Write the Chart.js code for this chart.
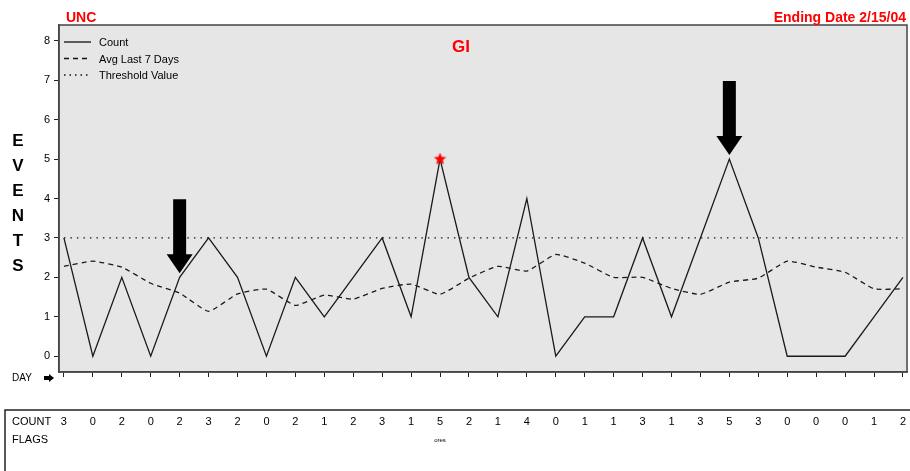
<!DOCTYPE html>
<html lang="en">
<head>
    <meta charset="UTF-8">
    <title>GI Events</title>
    <style>
        html, body { margin: 0; padding: 0; background: #fff; overflow: hidden; }
        #wrap { width: 910px; height: 471px; overflow: hidden; }
    </style>
</head>
<body>
    <div id="wrap"><canvas id="eventsChart" width="914" height="471"></canvas></div>
    <script src="https://cdn.jsdelivr.net/npm/chart.js"></script>
    <script>
        // data
        const days = [0,1,2,3,4,5,6,7,8,9,10,11,12,13,14,15,16,17,18,19,20,21,22,23,24,25,26,27,28,29];
        const counts = [3,0,2,0,2,3,2,0,2,1,2,3,1,5,2,1,4,0,1,1,3,1,3,5,3,0,0,0,1,2];
        const avgLast7 = [2.28,2.41,2.26,1.85,1.6,1.14,1.58,1.7,1.29,1.55,1.45,1.72,1.83,1.57,1.98,2.28,2.16,2.58,2.36,2.0,2.0,1.72,1.57,1.88,1.98,2.41,2.26,2.13,1.71,1.71];
        const threshold = 3;
        const yTicks = [0,1,2,3,4,5,6,7,8];
        const flagDays = [13];
        const flagText = ['ores'];
        const arrowDays = [4, 23];

        const FONT = '"Liberation Sans", Arial, sans-serif';

        // red five point star for the flagged count
        function makeStar(size) {
            const c = document.createElement('canvas');
            c.width = size; c.height = size;
            const g = c.getContext('2d');
            const r = size / 2, ri = r * 0.45;
            g.beginPath();
            for (let i = 0; i < 10; i++) {
                const rad = i % 2 === 0 ? r : ri;
                const a = -Math.PI / 2 + i * Math.PI / 5;
                g.lineTo(r + rad * Math.cos(a), r + rad * Math.sin(a));
            }
            g.closePath();
            g.fillStyle = '#ff0000';
            g.fill();
            return c;
        }

        const decorations = {
            id: 'decorations',
            beforeDraw(chart) {
                const { ctx, chartArea: a } = chart;
                ctx.save();
                ctx.fillStyle = '#e6e6e6';
                ctx.fillRect(a.left, a.top, a.right - a.left, a.bottom - a.top);
                ctx.restore();
            },
            afterDraw(chart) {
                const { ctx, chartArea: a, scales } = chart;
                const xs = scales.x, ys = scales.y;
                ctx.save();

                // frame
                ctx.strokeStyle = '#444';
                ctx.lineWidth = 1.5;
                ctx.strokeRect(a.left, a.top, a.right - a.left, a.bottom - a.top);

                // titles
                ctx.fillStyle = '#ff0000';
                ctx.font = 'bold 14px ' + FONT;
                ctx.textBaseline = 'alphabetic';
                ctx.textAlign = 'left';
                ctx.fillText('UNC', 66, 22);
                ctx.textAlign = 'right';
                ctx.fillText('Ending Date 2/15/04', 906, 22);
                ctx.textAlign = 'center';
                ctx.font = 'bold 17px ' + FONT;
                ctx.fillText('GI', 461, 52);

                // EVENTS vertical
                ctx.fillStyle = '#000';
                ctx.font = 'bold 17px ' + FONT;
                'EVENTS'.split('').forEach((ch, i) => {
                    ctx.fillText(ch, 18, 146 + i * 25);
                });

                // legend
                ctx.font = '11px ' + FONT;
                ctx.textAlign = 'left';
                ctx.textBaseline = 'middle';
                const leg = [
                    ['Count', []],
                    ['Avg Last 7 Days', [5, 4]],
                    ['Threshold Value', [1.5, 4]]
                ];
                leg.forEach((l, i) => {
                    const y = 42 + i * 16.5;
                    ctx.strokeStyle = '#111';
                    ctx.lineWidth = 1.3;
                    ctx.setLineDash(l[1]);
                    ctx.beginPath();
                    ctx.moveTo(64, y); ctx.lineTo(91, y);
                    ctx.stroke();
                    ctx.setLineDash([]);
                    ctx.fillStyle = '#000';
                    ctx.fillText(l[0], 99, y + 1);
                });

                // arrows above the points of interest
                ctx.fillStyle = '#000';
                arrowDays.forEach(d => {
                    const px = xs.getPixelForValue(d);
                    const tip = ys.getPixelForValue(counts[d]) - 4;
                    ctx.beginPath();
                    ctx.moveTo(px - 6.5, tip - 74);
                    ctx.lineTo(px + 6.5, tip - 74);
                    ctx.lineTo(px + 6.5, tip - 19);
                    ctx.lineTo(px + 13, tip - 19);
                    ctx.lineTo(px, tip);
                    ctx.lineTo(px - 13, tip - 19);
                    ctx.lineTo(px - 6.5, tip - 19);
                    ctx.closePath();
                    ctx.fill();
                });

                // DAY marker
                ctx.font = '10px ' + FONT;
                ctx.textBaseline = 'middle';
                ctx.fillText('DAY', 12, 378);
                ctx.beginPath();
                ctx.moveTo(44, 376); ctx.lineTo(49, 376); ctx.lineTo(49, 374);
                ctx.lineTo(54, 378); ctx.lineTo(49, 382); ctx.lineTo(49, 380);
                ctx.lineTo(44, 380);
                ctx.closePath();
                ctx.fill();

                // count / flags table
                ctx.strokeStyle = '#222';
                ctx.lineWidth = 1.5;
                ctx.beginPath();
                ctx.moveTo(914, 410); ctx.lineTo(5, 410); ctx.lineTo(5, 471);
                ctx.stroke();
                ctx.font = '11px ' + FONT;
                ctx.textAlign = 'left';
                ctx.fillText('COUNT', 12, 422);
                ctx.fillText('FLAGS', 12, 440);
                ctx.textAlign = 'center';
                counts.forEach((c, i) => {
                    ctx.fillText(String(c), xs.getPixelForValue(days[i]), 422);
                });
                ctx.font = '6px ' + FONT;
                flagDays.forEach((d, i) => {
                    ctx.fillText(flagText[i], xs.getPixelForValue(d), 440);
                });

                ctx.restore();
            }
        };

        const ctx = document.getElementById('eventsChart').getContext('2d');
        const chart = new Chart(ctx, {
            type: 'line',
            data: {
                datasets: [
                    {
                        label: 'Flag',
                        data: flagDays.map(d => ({ x: d, y: counts[d] })),
                        showLine: false,
                        pointStyle: makeStar(13),
                        pointRadius: 6,
                        order: 0
                    },
                    {
                        label: 'Count',
                        data: days.map((d, i) => ({ x: d, y: counts[i] })),
                        borderColor: '#1a1a1a',
                        borderWidth: 1.3,
                        pointRadius: 0,
                        tension: 0,
                        order: 1
                    },
                    {
                        label: 'Avg Last 7 Days',
                        data: days.map((d, i) => ({ x: d, y: avgLast7[i] })),
                        borderColor: '#1a1a1a',
                        borderWidth: 1.3,
                        borderDash: [5, 4],
                        pointRadius: 0,
                        tension: 0.15,
                        order: 2
                    },
                    {
                        label: 'Threshold Value',
                        data: days.map(d => ({ x: d, y: threshold })),
                        borderColor: '#1a1a1a',
                        borderWidth: 1.3,
                        borderDash: [1.5, 5],
                        pointRadius: 0,
                        order: 3
                    }
                ]
            },
            options: {
                responsive: false,
                animation: false,
                devicePixelRatio: 1,
                layout: { padding: { top: 25, right: 0, left: 0, bottom: 0 } },
                plugins: { legend: { display: false }, tooltip: { enabled: false } },
                scales: {
                    x: {
                        type: 'linear',
                        min: -0.17,
                        max: 29.14,
                        afterBuildTicks: s => { s.ticks = days.map(v => ({ value: v })); },
                        afterFit: s => { s.height = 99; },
                        ticks: { display: false },
                        grid: { drawOnChartArea: false, drawTicks: true, tickLength: 5, color: '#222' },
                        border: { display: true, color: '#444', width: 1.5 }
                    },
                    y: {
                        min: -0.4,
                        max: 8.4,
                        afterBuildTicks: s => { s.ticks = yTicks.map(v => ({ value: v })); },
                        afterFit: s => { s.width = 59; },
                        ticks: { color: '#000', padding: 4, font: { family: FONT, size: 11 } },
                        grid: { drawOnChartArea: false, drawTicks: true, tickLength: 5, color: '#222' },
                        border: { display: true, color: '#444', width: 1.5 }
                    }
                }
            },
            plugins: [decorations]
        });
    </script>
</body>
</html>
